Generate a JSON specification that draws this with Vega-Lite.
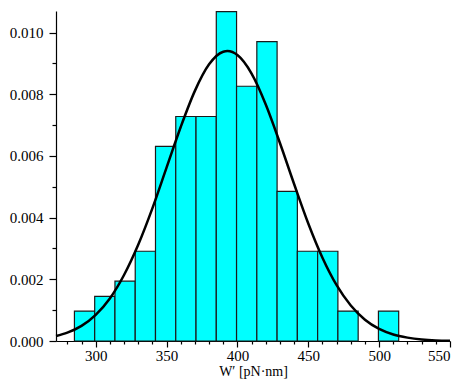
{
  "$schema": "https://vega.github.io/schema/vega-lite/v6.json",
  "autosize": {"type": "none"},
  "padding": {"left": 56, "top": 11, "right": 19, "bottom": 41},
  "width": 394,
  "height": 330,
  "background": "white",
  "config": {
    "view": {"stroke": null},
    "font": "Liberation Serif",
    "axis": {"labelFont": "Liberation Serif", "titleFont": "Liberation Serif", "labelColor": "black", "titleColor": "black", "domainColor": "black", "tickColor": "black", "grid": false, "domainWidth": 1.2, "tickWidth": 1.2}
  },
  "datasets": {
    "bars": [
      {"lo": 285.0, "hi": 299.3, "density": 0.00097},
      {"lo": 299.3, "hi": 313.6, "density": 0.00145},
      {"lo": 313.6, "hi": 327.9, "density": 0.00194},
      {"lo": 327.9, "hi": 342.2, "density": 0.00291},
      {"lo": 342.2, "hi": 356.5, "density": 0.00631},
      {"lo": 356.5, "hi": 370.8, "density": 0.00728},
      {"lo": 370.8, "hi": 385.1, "density": 0.00728},
      {"lo": 385.1, "hi": 399.4, "density": 0.01068},
      {"lo": 399.4, "hi": 413.7, "density": 0.00826},
      {"lo": 413.7, "hi": 428.0, "density": 0.00971},
      {"lo": 428.0, "hi": 442.3, "density": 0.00485},
      {"lo": 442.3, "hi": 456.6, "density": 0.00291},
      {"lo": 456.6, "hi": 470.9, "density": 0.00291},
      {"lo": 470.9, "hi": 485.2, "density": 0.00097},
      {"lo": 499.5, "hi": 513.8, "density": 0.00097}
    ],
    "curve": [
      {"x": 272, "y": 0.00016},
      {"x": 280, "y": 0.00027},
      {"x": 290, "y": 0.00049},
      {"x": 300, "y": 0.00085},
      {"x": 310, "y": 0.00138},
      {"x": 320, "y": 0.00214},
      {"x": 330, "y": 0.00312},
      {"x": 340, "y": 0.00430},
      {"x": 350, "y": 0.00562},
      {"x": 360, "y": 0.00694},
      {"x": 370, "y": 0.00811},
      {"x": 380, "y": 0.00897},
      {"x": 390, "y": 0.00938},
      {"x": 393, "y": 0.00940},
      {"x": 400, "y": 0.00927},
      {"x": 410, "y": 0.00867},
      {"x": 420, "y": 0.00767},
      {"x": 430, "y": 0.00642},
      {"x": 440, "y": 0.00509},
      {"x": 450, "y": 0.00381},
      {"x": 460, "y": 0.00270},
      {"x": 470, "y": 0.00181},
      {"x": 480, "y": 0.00115},
      {"x": 490, "y": 0.00069},
      {"x": 500, "y": 0.00039},
      {"x": 510, "y": 0.00021},
      {"x": 520, "y": 0.00011},
      {"x": 530, "y": 0.00005},
      {"x": 540, "y": 0.00002},
      {"x": 550, "y": 0.00001}
    ]
  },
  "resolve": {"axis": {"x": "independent", "y": "independent"}},
  "layer": [
    {
      "data": {"name": "bars"},
      "mark": {"type": "rect", "fill": "#00FFFF", "stroke": "#1a1a1a", "strokeWidth": 1.2},
      "encoding": {
        "x": {"field": "lo", "type": "quantitative", "scale": {"domain": [272, 550], "nice": false, "zero": false},
              "axis": {"title": "W′ [pN·nm]", "values": [300, 350, 400, 450, 500, 550], "labelFont": "Liberation Serif", "titleFont": "Liberation Serif", "labelFontSize": 15, "titleFontSize": 14, "titleFontWeight": "normal", "tickSize": 6, "labelPadding": 1, "titlePadding": 1}},
        "x2": {"field": "hi"},
        "y": {"field": "density", "type": "quantitative", "scale": {"domain": [0, 0.0107], "nice": false},
              "axis": {"title": null, "values": [0, 0.002, 0.004, 0.006, 0.008, 0.01], "format": ".3f", "labelFont": "Liberation Serif", "labelFontSize": 15, "tickSize": 7, "labelPadding": 6}},
        "y2": {"datum": 0}
      }
    },
    {
      "data": {"name": "curve"},
      "mark": {"type": "line", "color": "black", "strokeWidth": 2.5, "interpolate": "monotone"},
      "encoding": {
        "x": {"field": "x", "type": "quantitative", "scale": {"domain": [272, 550], "nice": false, "zero": false},
              "axis": {"orient": "bottom", "title": null, "labels": false, "domain": false, "tickSize": 3, "values": [280, 290, 310, 320, 330, 340, 360, 370, 380, 390, 410, 420, 430, 440, 460, 470, 480, 490, 510, 520, 530, 540]}},
        "y": {"field": "y", "type": "quantitative", "scale": {"domain": [0, 0.0107], "nice": false},
              "axis": {"orient": "left", "title": null, "labels": false, "domain": false, "tickSize": 4, "values": [0.001, 0.003, 0.005, 0.007, 0.009]}}
      }
    }
  ]
}
